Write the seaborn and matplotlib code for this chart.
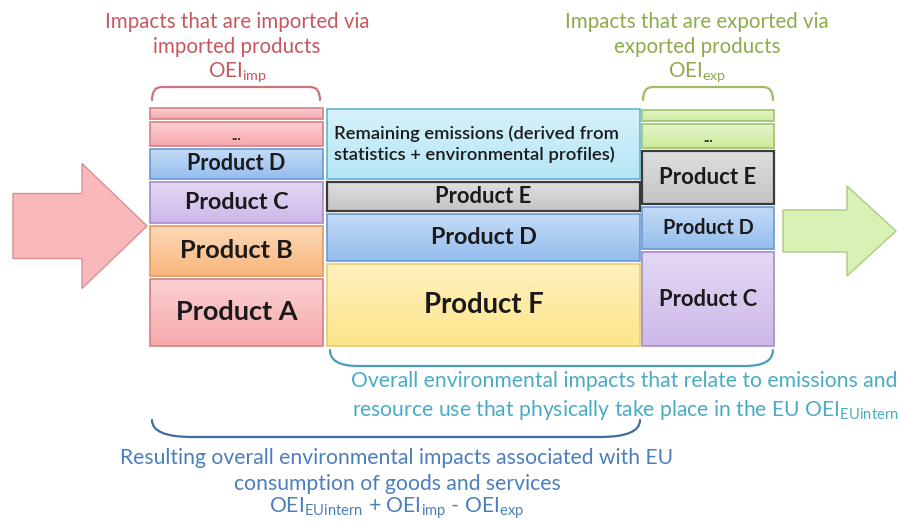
"""
Recreation of the OEI (overall environmental impacts) stacking diagram.
Saves out.png (899x522).
"""

import numpy as np
import matplotlib.pyplot as plt
import matplotlib.colors as mcolors
from matplotlib.patches import FancyArrow, PathPatch
from matplotlib.path import Path
import seaborn as sns

sns.set_theme(style="white")
plt.rcParams["font.family"] = ["Lato", "DejaVu Sans"]
plt.rcParams["mathtext.default"] = "regular"

# ── data: stacks listed bottom to top ─────────────────────
IMP_LABELS = ["Product A", "Product B", "Product C", "Product D", "...", ""]
IMP_VALUES = [67, 50, 41, 30, 24, 11]
IMP_COLORS = ["pink", "orange", "purple", "blue", "pink", "pink"]
IMP_SIZES = [19.5, 18.3, 16.8, 15.5, 10, 10]

EU_LABELS = ["Product F", "Product D", "Product E",
             "Remaining emissions (derived from\nstatistics + environmental profiles)"]
EU_VALUES = [82, 47, 29, 70]
EU_COLORS = ["yellow", "blue", "grey", "cyan"]
EU_SIZES = [19.8, 16.8, 15.8, 13.2]

EXP_LABELS = ["Product C", "Product D", "Product E", "...", ""]
EXP_VALUES = [94, 42, 53, 24, 11]
EXP_COLORS = ["purple", "blue", "grey", "green", "green"]
EXP_SIZES = [15.8, 14.3, 16, 10, 10]

FILL = {
    "pink":   "#f7a9ad",
    "orange": "#f9b77c",
    "purple": "#cdb8ea",
    "blue":   "#94bdee",
    "yellow": "#fde58a",
    "grey":   "#c4c4c4",
    "cyan":   "#b4e6f6",
    "green":  "#cdeb9c",
}
EDGE = {
    "pink":   "#d57f84",
    "orange": "#e39a5c",
    "purple": "#a38cc9",
    "blue":   "#6b98d0",
    "yellow": "#e6cc70",
    "grey":   "#3a3a3a",
    "cyan":   "#62b5d0",
    "green":  "#9dc36a",
}

RED_TXT = "#c5585e"
GREEN_TXT = "#8dab4b"
TEAL_TXT = "#4aabc5"
BLUE_TXT = "#4b7ebc"

BASE = 176   # bottom of the stacks
GAP = 3


def shade(ax, patch, color):
    """Vertical gradient fill, lighter at the top, clipped to the bar."""
    rgb = np.array(mcolors.to_rgb(color))
    light = rgb + (1 - rgb) * 0.45
    t = np.linspace(0, 1, 64)[:, None, None]
    img = rgb * (1 - t) + light * t
    x0, y0 = patch.get_x(), patch.get_y()
    w, h = patch.get_width(), patch.get_height()
    im = ax.imshow(img, extent=[x0, x0 + w, y0, y0 + h], origin="lower",
                   aspect="auto", zorder=2, interpolation="bilinear")
    im.set_clip_path(patch)


def draw_stack(ax, xc, width, values, labels, colors, sizes):
    bottom = BASE
    for v, lab, c, fs in zip(values, labels, colors, sizes):
        bars = ax.bar(xc, v, width=width, bottom=bottom, color="none",
                      edgecolor=EDGE[c], linewidth=1.6 if c == "grey" else 1.2,
                      zorder=3)
        shade(ax, bars[0], FILL[c])
        if lab.startswith("Remaining"):
            ax.text(xc - width / 2 + 7, bottom + v / 2, lab, ha="left",
                    va="center", fontsize=fs, fontweight="semibold",
                    color="#1a1a1a", linespacing=1.3, zorder=4)
        elif lab:
            ax.text(xc, bottom + v / 2 - (2 if lab == "..." else 0), lab,
                    ha="center", va="center", fontsize=fs, fontweight="bold",
                    color="#1a1a1a", zorder=4)
        bottom += v + GAP


def bracket(ax, x0, x1, y_end, y_line, r, color):
    verts = [(x0, y_end), (x0, y_line), (x0 + r, y_line),
             (x1 - r, y_line), (x1, y_line), (x1, y_end)]
    codes = [Path.MOVETO, Path.CURVE3, Path.CURVE3,
             Path.LINETO, Path.CURVE3, Path.CURVE3]
    ax.add_patch(PathPatch(Path(verts, codes), fill=False, edgecolor=color,
                           linewidth=1.6, capstyle="round", zorder=3))


fig = plt.figure(figsize=(8.99, 5.22), dpi=100)
ax = fig.add_axes([0, 0, 1, 1])
ax.set_xlim(0, 899)
ax.set_ylim(0, 522)
ax.axis("off")

# stacks
draw_stack(ax, 236.5, 173, IMP_VALUES, IMP_LABELS, IMP_COLORS, IMP_SIZES)
draw_stack(ax, 483.5, 313, EU_VALUES, EU_LABELS, EU_COLORS, EU_SIZES)
draw_stack(ax, 708, 132, EXP_VALUES, EXP_LABELS, EXP_COLORS, EXP_SIZES)

# arrows in / out
ax.add_patch(FancyArrow(13, 296, 134, 0, width=65, head_width=125,
                        head_length=65, length_includes_head=True,
                        facecolor="#f9b9bb", edgecolor="#d98f93",
                        linewidth=1.0, zorder=2))
ax.add_patch(FancyArrow(783, 291, 113, 0, width=42, head_width=90,
                        head_length=49, length_includes_head=True,
                        facecolor="#d8f1b4", edgecolor="#aacb80",
                        linewidth=1.0, zorder=2))

# brackets
bracket(ax, 152, 320, 422, 435, 10, "#c9767b")
bracket(ax, 643, 773, 422, 435, 10, "#9dbd62")
bracket(ax, 330, 773, 172, 156, 28, "#4a9fb8")
bracket(ax, 152, 640, 102, 85, 40, "#3f6c9f")

# annotations
for y, line in zip([500, 475, 450],
                   ["Impacts that are imported via", "imported products",
                    "OEI$_{imp}$"]):
    ax.text(237, y, line, ha="center", va="center", fontsize=14.8,
            color=RED_TXT)

for y, line in zip([500, 475, 450],
                   ["Impacts that are exported via", "exported products",
                    "OEI$_{exp}$"]):
    ax.text(697, y, line, ha="center", va="center", fontsize=14.8,
            color=GREEN_TXT)

ax.text(624, 141, "Overall environmental impacts that relate to emissions and",
        ha="center", va="center", fontsize=15.2, color=TEAL_TXT)
ax.text(625, 112, "resource use that physically take place in the EU OEI$_{EUintern}$",
        ha="center", va="center", fontsize=15.2, color=TEAL_TXT)

ax.text(397, 64, "Resulting overall environmental impacts associated with EU",
        ha="center", va="center", fontsize=15.2, color=BLUE_TXT)
ax.text(397, 38, "consumption of goods and services",
        ha="center", va="center", fontsize=15.2, color=BLUE_TXT)
ax.text(397, 14, "OEI$_{EUintern}$ + OEI$_{imp}$ - OEI$_{exp}$",
        ha="center", va="center", fontsize=15.2, color=BLUE_TXT)

ax.set_xlim(0, 899)
ax.set_ylim(0, 522)
fig.savefig("out.png", dpi=100, facecolor="white")
